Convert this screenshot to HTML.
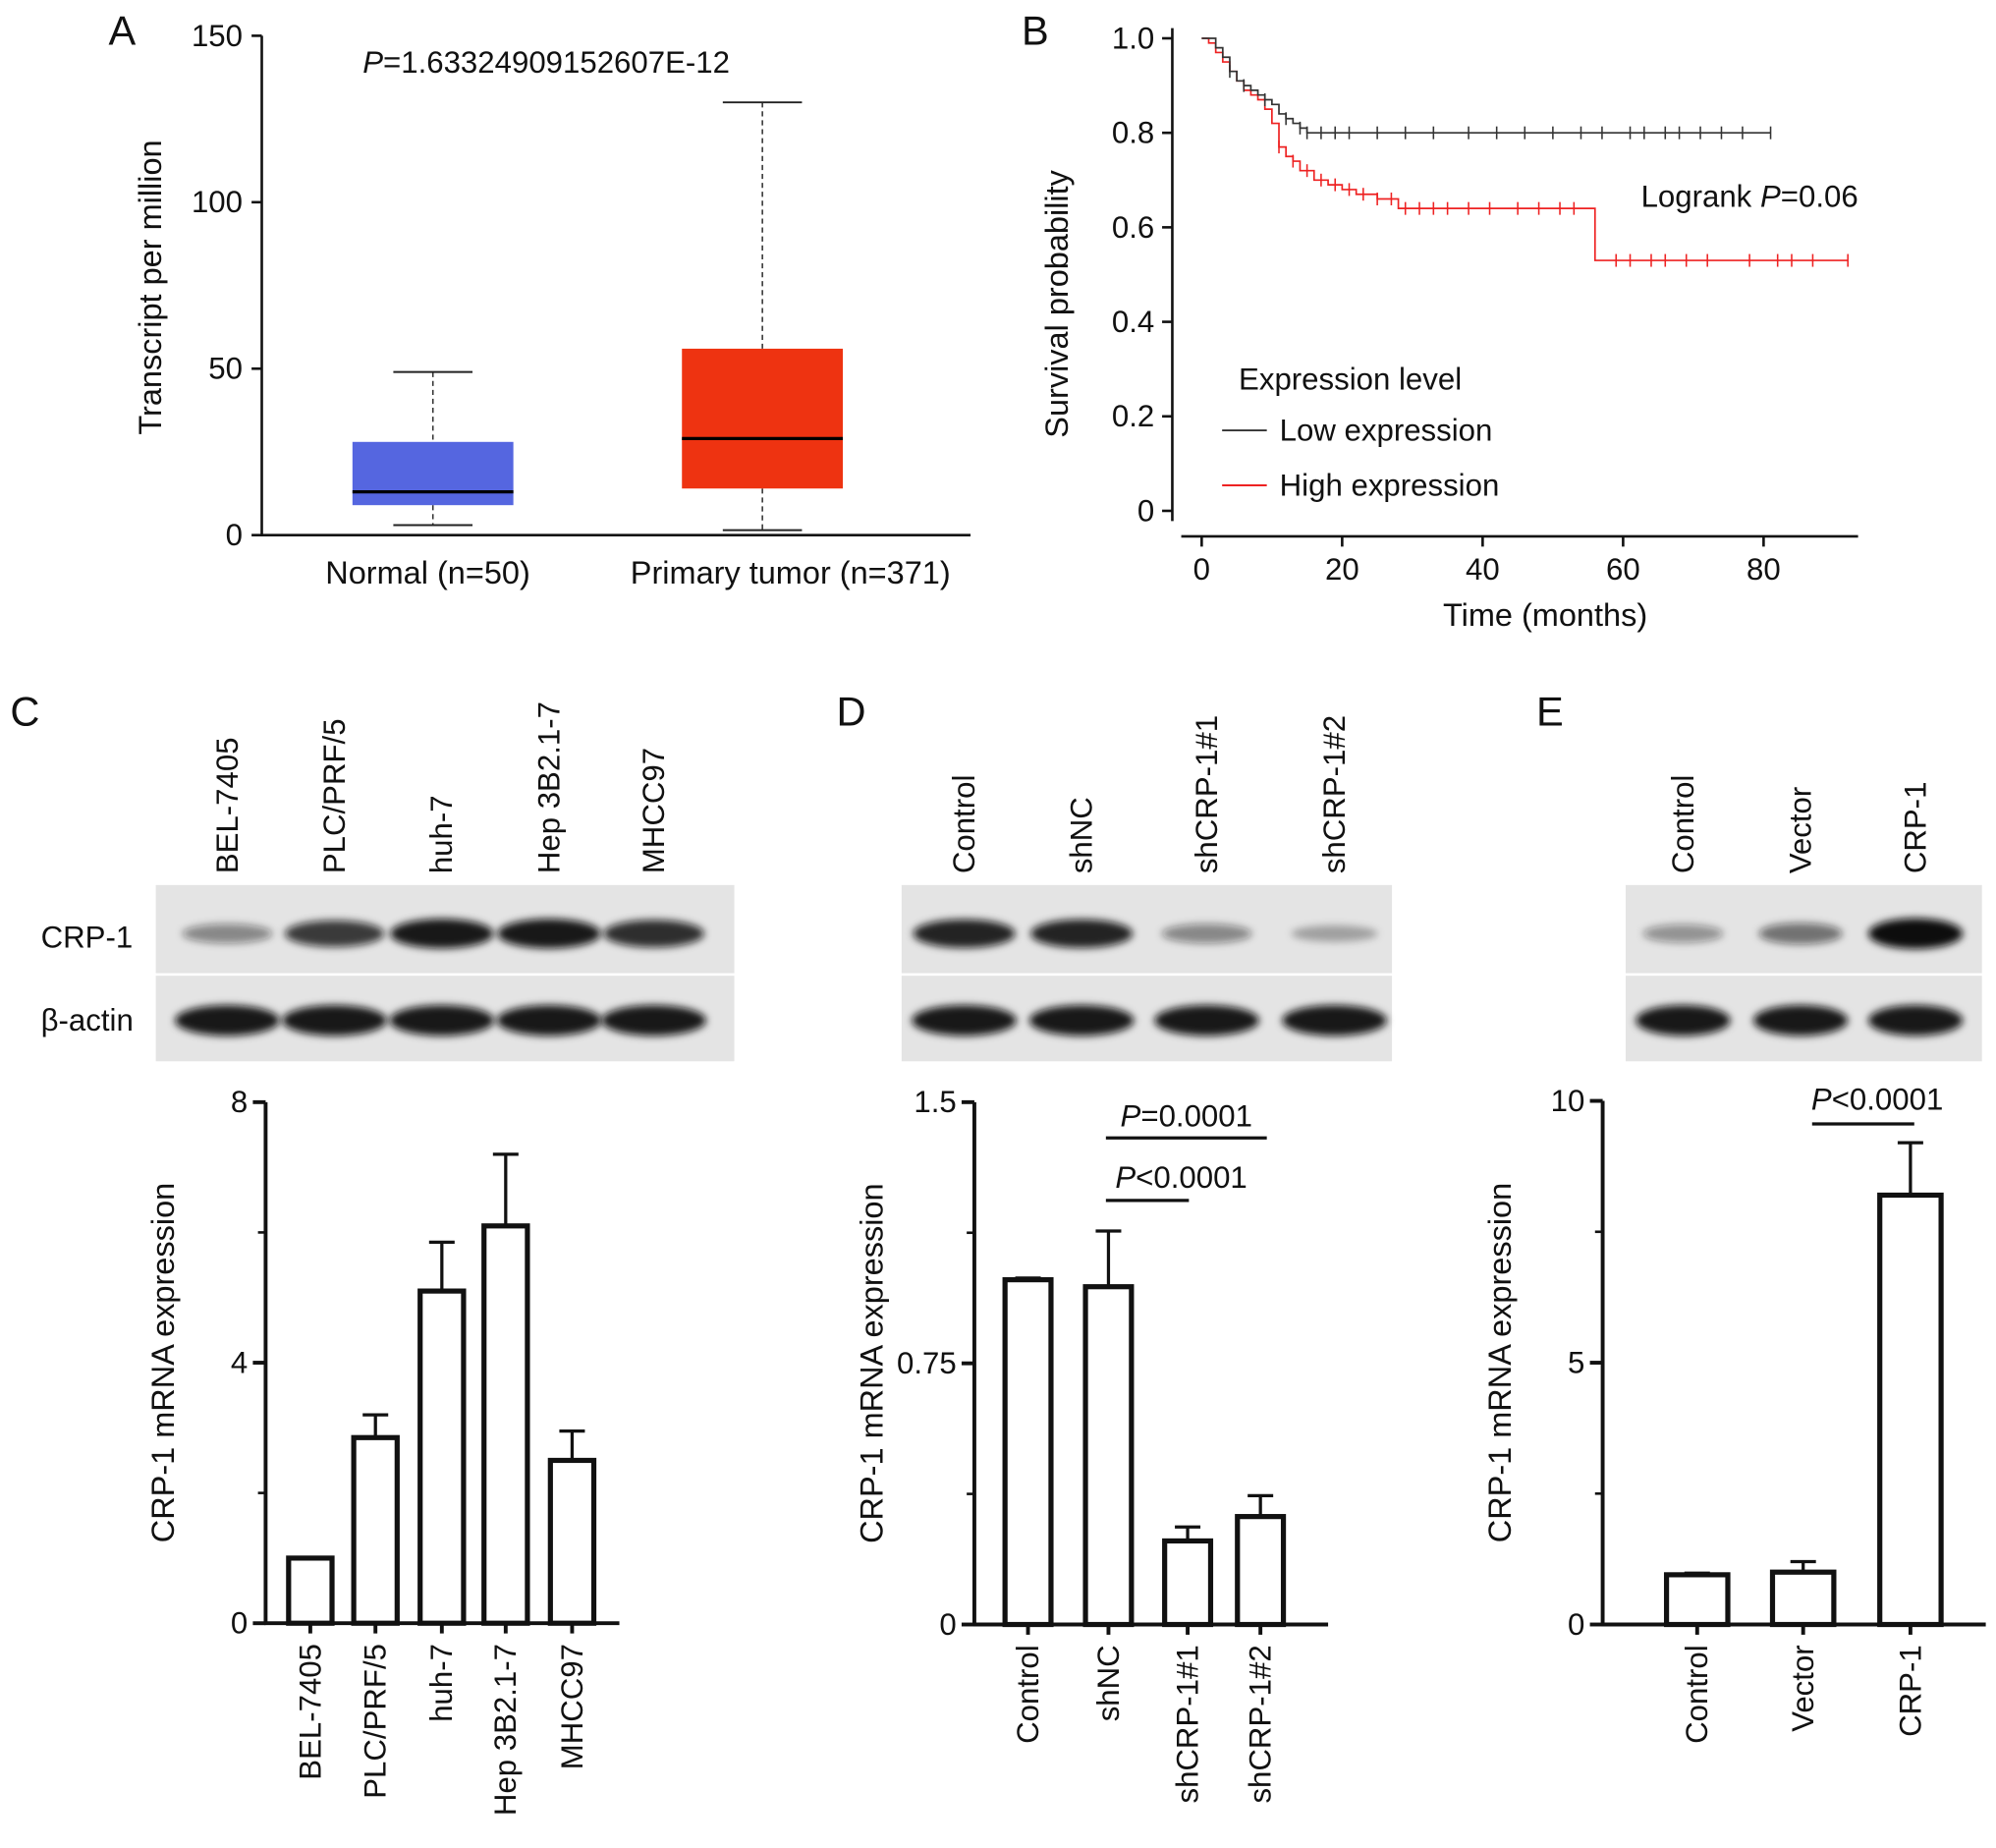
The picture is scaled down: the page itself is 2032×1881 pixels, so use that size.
<!DOCTYPE html>
<html><head><meta charset="utf-8"><style>
html,body{margin:0;padding:0;background:#fff}
svg{display:block;font-family:"Liberation Sans",Arial,sans-serif}
</style></head><body>
<svg id="fig" width="2032" height="1881" viewBox="0 0 1563 1447" preserveAspectRatio="none">
<defs><filter id="blur" x="-20%" y="-50%" width="140%" height="200%"><feGaussianBlur stdDeviation="3"/></filter></defs>
</svg>
<script>
// ---------- data ----------
const boxCategories=["Normal (n=50)","Primary tumor (n=371)"];
const boxMin=[3,1.5], boxQ1=[9,14], boxMedian=[13,29], boxQ3=[28,56], boxMax=[49,130];
const boxTicks=[0,50,100,150];
const kmLowT=[0,2,3,4,5,6,7,8,9,10,11,12,13,14,15,81];
const kmLowS=[1,0.98,0.96,0.93,0.91,0.9,0.89,0.88,0.87,0.86,0.84,0.83,0.82,0.81,0.80,0.80];
const kmHighT=[0,1,2,3,4,5,6,7,8,9,10,11,12,13,14,16,18,20,22,25,28,55,56,92];
const kmHighS=[1,0.99,0.97,0.95,0.93,0.91,0.89,0.88,0.87,0.85,0.82,0.77,0.75,0.74,0.72,0.70,0.69,0.68,0.67,0.66,0.64,0.64,0.53,0.53];
const kmLowCens=[4,6,9,12,14,15,17,19,21,25,29,33,38,42,46,50,54,57,61,63,66,68,71,74,77,81];
const kmHighCens=[11,13,15,17,19,21,23,25,27,29,31,33,35,38,41,45,48,51,53,59,61,64,66,69,72,78,82,84,87,92];
const kmXTicks=[0,20,40,60,80];
const kmYTicks=[0,0.2,0.4,0.6,0.8,1.0];
const cCats=["BEL-7405","PLC/PRF/5","huh-7","Hep 3B2.1-7","MHCC97"];
const cVals=[1,2.85,5.1,6.1,2.5], cErr=[0,0.35,0.75,1.1,0.45], cTicks=[0,4,8];
const cBlot1=[0.45,0.8,0.95,0.95,0.85], cBlot2=[0.95,0.95,0.95,0.95,0.95];
const dCats=["Control","shNC","shCRP-1#1","shCRP-1#2"];
const dVals=[0.99,0.97,0.24,0.31], dErr=[0.005,0.16,0.04,0.06], dTicks=[0,0.75,1.5];
const dBlot1=[0.9,0.9,0.45,0.3], dBlot2=[0.95,0.95,0.95,0.95];
const eCats=["Control","Vector","CRP-1"];
const eVals=[0.95,1.0,8.2], eErr=[0.03,0.2,1.0], eTicks=[0,5,10];
const eBlot1=[0.4,0.55,1.0], eBlot2=[0.95,0.95,0.95];

const FS=24, FT=25;
const svg=document.getElementById('fig');
const NS='http://www.w3.org/2000/svg';
function el(tag,attrs,parent){const e=document.createElementNS(NS,tag);for(const k in attrs)e.setAttribute(k,attrs[k]);(parent||svg).appendChild(e);return e;}
function txt(x,y,s,size,anchor,parent,extra){const t=el('text',Object.assign({x:x,y:y,'font-size':size,'text-anchor':anchor||'start',fill:'#111'},extra||{}),parent);t.textContent=s;return t;}
function line(x1,y1,x2,y2,w,c,parent){return el('line',{x1,y1,x2,y2,stroke:c||'#111','stroke-width':w||2},parent);}

[["A",85,35],["B",800,35],["C",8,568],["D",655,568],["E",1203,568]].forEach(p=>{
 const t=txt(p[1],p[2],p[0],32,'start');
 
 
});

// ---------- Panel A ----------
(function(){
 const g=el('g',{});
 
 
 const y=v=>419-v*(391/150);
 line(205,28,205,419,2,'#111',g);line(204,419,760,419,2,'#111',g);
 boxTicks.forEach(t=>{line(197,y(t),205,y(t),2,'#111',g);txt(190,y(t)+8,String(t),FS,'end',g);});
 const cx=[339,597],hw=63;
 boxCategories.forEach((c,i)=>{
  line(cx[i],y(boxMax[i]),cx[i],y(boxQ3[i]),1.2,'#333',g).setAttribute('stroke-dasharray','4,3');
  line(cx[i],y(boxQ1[i]),cx[i],y(boxMin[i]),1.2,'#333',g).setAttribute('stroke-dasharray','4,3');
  line(cx[i]-31,y(boxMax[i]),cx[i]+31,y(boxMax[i]),1.5,'#222',g);
  line(cx[i]-31,y(boxMin[i]),cx[i]+31,y(boxMin[i]),1.5,'#222',g);
  const r=el('rect',{x:cx[i]-hw,y:y(boxQ3[i]),width:hw*2,height:y(boxQ1[i])-y(boxQ3[i]),fill:i?'#ee3311':'#5566e0'},g);
  
  
  line(cx[i]-hw,y(boxMedian[i]),cx[i]+hw,y(boxMedian[i]),2.5,'#000',g);
  txt(cx[i]+(i?22:-4),457,c,FT,'middle',g);
 });
 const yt=txt(126,225,'Transcript per million',FT,'middle',g,{transform:'rotate(-90 126 225)'});
 
 
 const p=txt(284,57,'',FS,'start',g);
 p.innerHTML='<tspan font-style="italic">P</tspan>=1.63324909152607E-12';
})();

// ---------- Panel B ----------
(function(){
 const g=el('g',{});
 
 
 const x=t=>941+t*5.5, y=s=>400-s*370;
 line(918,22,918,408,2,'#111',g);line(925,420,1455,420,2,'#111',g);
 kmYTicks.forEach(t=>{line(910,y(t),918,y(t),2,'#111',g);txt(904,y(t)+8,t===0?'0':t.toFixed(1),FS,'end',g);});
 kmXTicks.forEach(t=>{line(x(t),420,x(t),428,2,'#111',g);txt(x(t),454,String(t),FS,'middle',g);});
 txt(1210,490,'Time (months)',FT,'middle',g);
 txt(836,238,'Survival probability',FT,'middle',g,{transform:'rotate(-90 836 238)'});
 function step(T,S,color,name,cens){
  let d='M'+x(T[0])+','+y(S[0]);
  for(let i=1;i<T.length;i++){d+=' H'+x(T[i])+' V'+y(S[i]);}
  const p=el('path',{d:d,fill:'none',stroke:color,'stroke-width':1.3},g);
  
  
  const sAt=t=>{let s=S[0];for(let i=0;i<T.length;i++)if(T[i]<=t)s=S[i];return s;};
  cens.forEach(t=>line(x(t),y(sAt(t))-5,x(t),y(sAt(t))+5,1.2,color,g));
 }
 step(kmHighT,kmHighS,'#ee2222','km-high-expression',kmHighCens);
 step(kmLowT,kmLowS,'#333','km-low-expression',kmLowCens);
 const lr=txt(1285,162,'',FS,'start',g);lr.innerHTML='Logrank <tspan font-style="italic">P</tspan>=0.06';
 txt(970,305,'Expression level',FS,'start',g);
 line(957,337,992,337,1.5,'#333',g);txt(1002,345,'Low expression',FS,'start',g);
 line(957,380,992,380,1.5,'#ee2222',g);txt(1002,388,'High expression',FS,'start',g);
})();

// ---------- blots ----------
function blot(name,x0,x1,centers,bw,r1,r2,labels){
 const g=el('g',{});
 
 
 el('rect',{x:x0,y:693,width:x1-x0,height:69,fill:'#e4e4e4'},g);
 el('rect',{x:x0,y:764,width:x1-x0,height:67,fill:'#e4e4e4'},g);
 centers.forEach((c,i)=>{
  const a=r1[i];
  el('ellipse',{cx:c,cy:731,rx:bw/2*(0.75+0.25*a),ry:4+8*a,fill:'#111','fill-opacity':a,filter:'url(#blur)'},g);
  el('ellipse',{cx:c,cy:799,rx:bw/2,ry:12,fill:'#111','fill-opacity':r2[i],filter:'url(#blur)'},g);
  txt(c+8,684,labels[i],FS,'start',g,{transform:'rotate(-90 '+(c+8)+' 684)'});
 });
}
blot('blot-c',122,575,[178,262,346,430,512],82,cBlot1,cBlot2,cCats);
txt(32,742,'CRP-1',FS,'start');
txt(32,807,'β-actin',FS,'start');
blot('blot-d',706,1090,[755,847,945,1045],82,dBlot1,dBlot2,dCats);
blot('blot-e',1273,1552,[1318,1410,1500],74,eBlot1,eBlot2,eCats);

// ---------- bar charts ----------
function bars(name,axX,yTop,yBot,xEnd,ticks,vals,errs,cats,centers,bw,fmt){
 const g=el('g',{});
 
 
 const max=ticks[ticks.length-1];
 const y=v=>yBot-v*(yBot-yTop)/max;
 vals.forEach((v,i)=>{
  line(centers[i],y(v),centers[i],y(v+errs[i]),2.5,'#111',g);
  line(centers[i]-10,y(v+errs[i]),centers[i]+10,y(v+errs[i]),2.5,'#111',g);
  const r=el('rect',{x:centers[i]-bw/2,y:y(v),width:bw,height:yBot-y(v),fill:'#fff',stroke:'#111','stroke-width':4},g);
  
  
  line(centers[i],yBot,centers[i],yBot+8,3,'#111',g);
  txt(centers[i]+8,yBot+16,cats[i],FS,'end',g,{transform:'rotate(-90 '+(centers[i]+8)+' '+(yBot+16)+')'});
 });
 line(axX,yTop,axX,yBot,3,'#111',g);line(axX-1,yBot,xEnd,yBot,3,'#111',g);
 ticks.forEach(t=>{line(axX-10,y(t),axX,y(t),3,'#111',g);txt(axX-14,y(t)+8,fmt(t),FS,'end',g);});
 ticks.forEach((t,i)=>{if(i<ticks.length-1){const m=(t+ticks[i+1])/2;line(axX-6,y(m),axX,y(m),2,'#111',g);}});
 const cy=(yTop+yBot)/2;
 txt(axX-72,cy,'CRP-1 mRNA expression',FT,'middle',g,{transform:'rotate(-90 '+(axX-72)+' '+cy+')'});
 return y;
}
bars('bar-chart-c',208,863,1271,485,cTicks,cVals,cErr,cCats,[243,294,346,396,448],34,String);
bars('bar-chart-d',763,863,1272,1040,dTicks,dVals,dErr,dCats,[805,868,930,987],36,t=>t===0?'0':String(t));
line(866,891,992,891,2.5);line(866,940,931,940,2.5);
txt(929,882,'',FS,'middle').innerHTML='<tspan font-style="italic">P</tspan>=0.0001';
txt(925,930,'',FS,'middle').innerHTML='<tspan font-style="italic">P</tspan>&lt;0.0001';
bars('bar-chart-e',1255,862,1272,1555,eTicks,eVals,eErr,eCats,[1329,1412,1496],48,String);
line(1419,880,1499,880,2.5);
txt(1470,869,'',FS,'middle').innerHTML='<tspan font-style="italic">P</tspan>&lt;0.0001';
</script>
</body></html>
